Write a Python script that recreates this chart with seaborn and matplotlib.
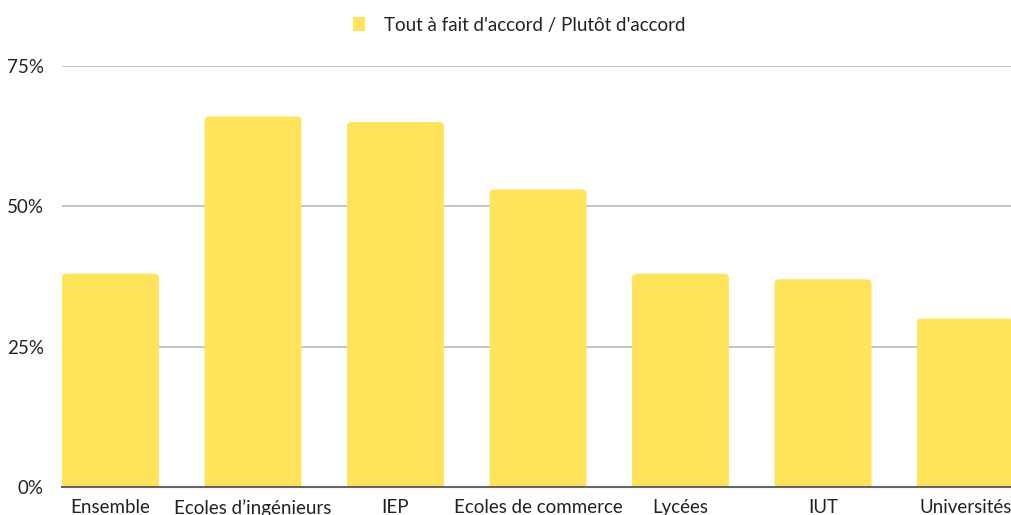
import numpy as np
import pandas as pd
import matplotlib.pyplot as plt
import seaborn as sns
from matplotlib.patches import FancyBboxPatch, Patch
from matplotlib.ticker import FuncFormatter

# values
categories = ['Ensemble', 'Ecoles d\u2019ingénieurs', 'IEP', 'Ecoles de commerce',
              'Lycées', 'IUT', 'Universités']
agree_pct = [38, 66, 65, 53, 38, 37, 30]
series_label = "Tout à fait d'accord / Plutôt d'accord"
yticks = [0, 25, 50, 75]

bar_color = '#FEE35B'

df = pd.DataFrame({'cat': categories, 'val': agree_pct})

sns.set_theme(style='white')
plt.rcParams['font.family'] = ['Lato', 'DejaVu Sans']

fig = plt.figure(figsize=(10.12, 5.15), dpi=100)
ax = fig.add_axes([0.0613, 0.0544, 0.9387, 0.8175])

sns.barplot(data=df, x='cat', y='val', color=bar_color, saturation=1,
            width=0.68, ax=ax, zorder=3)

ax.set_xlim(-0.34, 6.326)
ax.set_ylim(0, 75)

# rounded tops: replace rectangles with fancy boxes
px_x = 142.5          # pixels per category unit
px_y = 561.3 / 75     # pixels per percent
r_px = 5
for p in list(ax.patches):
    x, y, w, h = p.get_x(), p.get_y(), p.get_width(), p.get_height()
    fb = FancyBboxPatch((x, y - 2), w, h + 2,
                        boxstyle=f'round,pad=0,rounding_size={r_px / px_x}',
                        mutation_aspect=px_x / px_y,
                        facecolor=bar_color, edgecolor='none', zorder=3,
                        clip_on=True)
    p.remove()
    ax.add_patch(fb)

ax.set_yticks(yticks)
ax.yaxis.set_major_formatter(FuncFormatter(lambda v, _: f'{v:.0f}%'))
ax.grid(axis='y', color='#c0c0c0', linewidth=1.3, zorder=0)
ax.set_axisbelow(True)

for s in ['top', 'right', 'left']:
    ax.spines[s].set_visible(False)
ax.spines['bottom'].set_color('#666666')
ax.spines['bottom'].set_linewidth(1.5)
ax.spines['bottom'].set_zorder(4)

ax.tick_params(axis='y', length=0, pad=13, labelsize=13.5, labelcolor='#222222')
ax.tick_params(axis='x', length=0, pad=9, labelsize=13.5, labelcolor='#222222')
ax.set_xlabel('')
ax.set_ylabel('')

handle = Patch(facecolor=bar_color, edgecolor='none')
fig.legend([handle], [series_label], loc='center', bbox_to_anchor=(0.513, 0.951),
           frameon=False, fontsize=13.5, handlelength=0.65, handleheight=0.8,
           handletextpad=1.0, labelcolor='#222222')

fig.savefig('out.png', dpi=100)
